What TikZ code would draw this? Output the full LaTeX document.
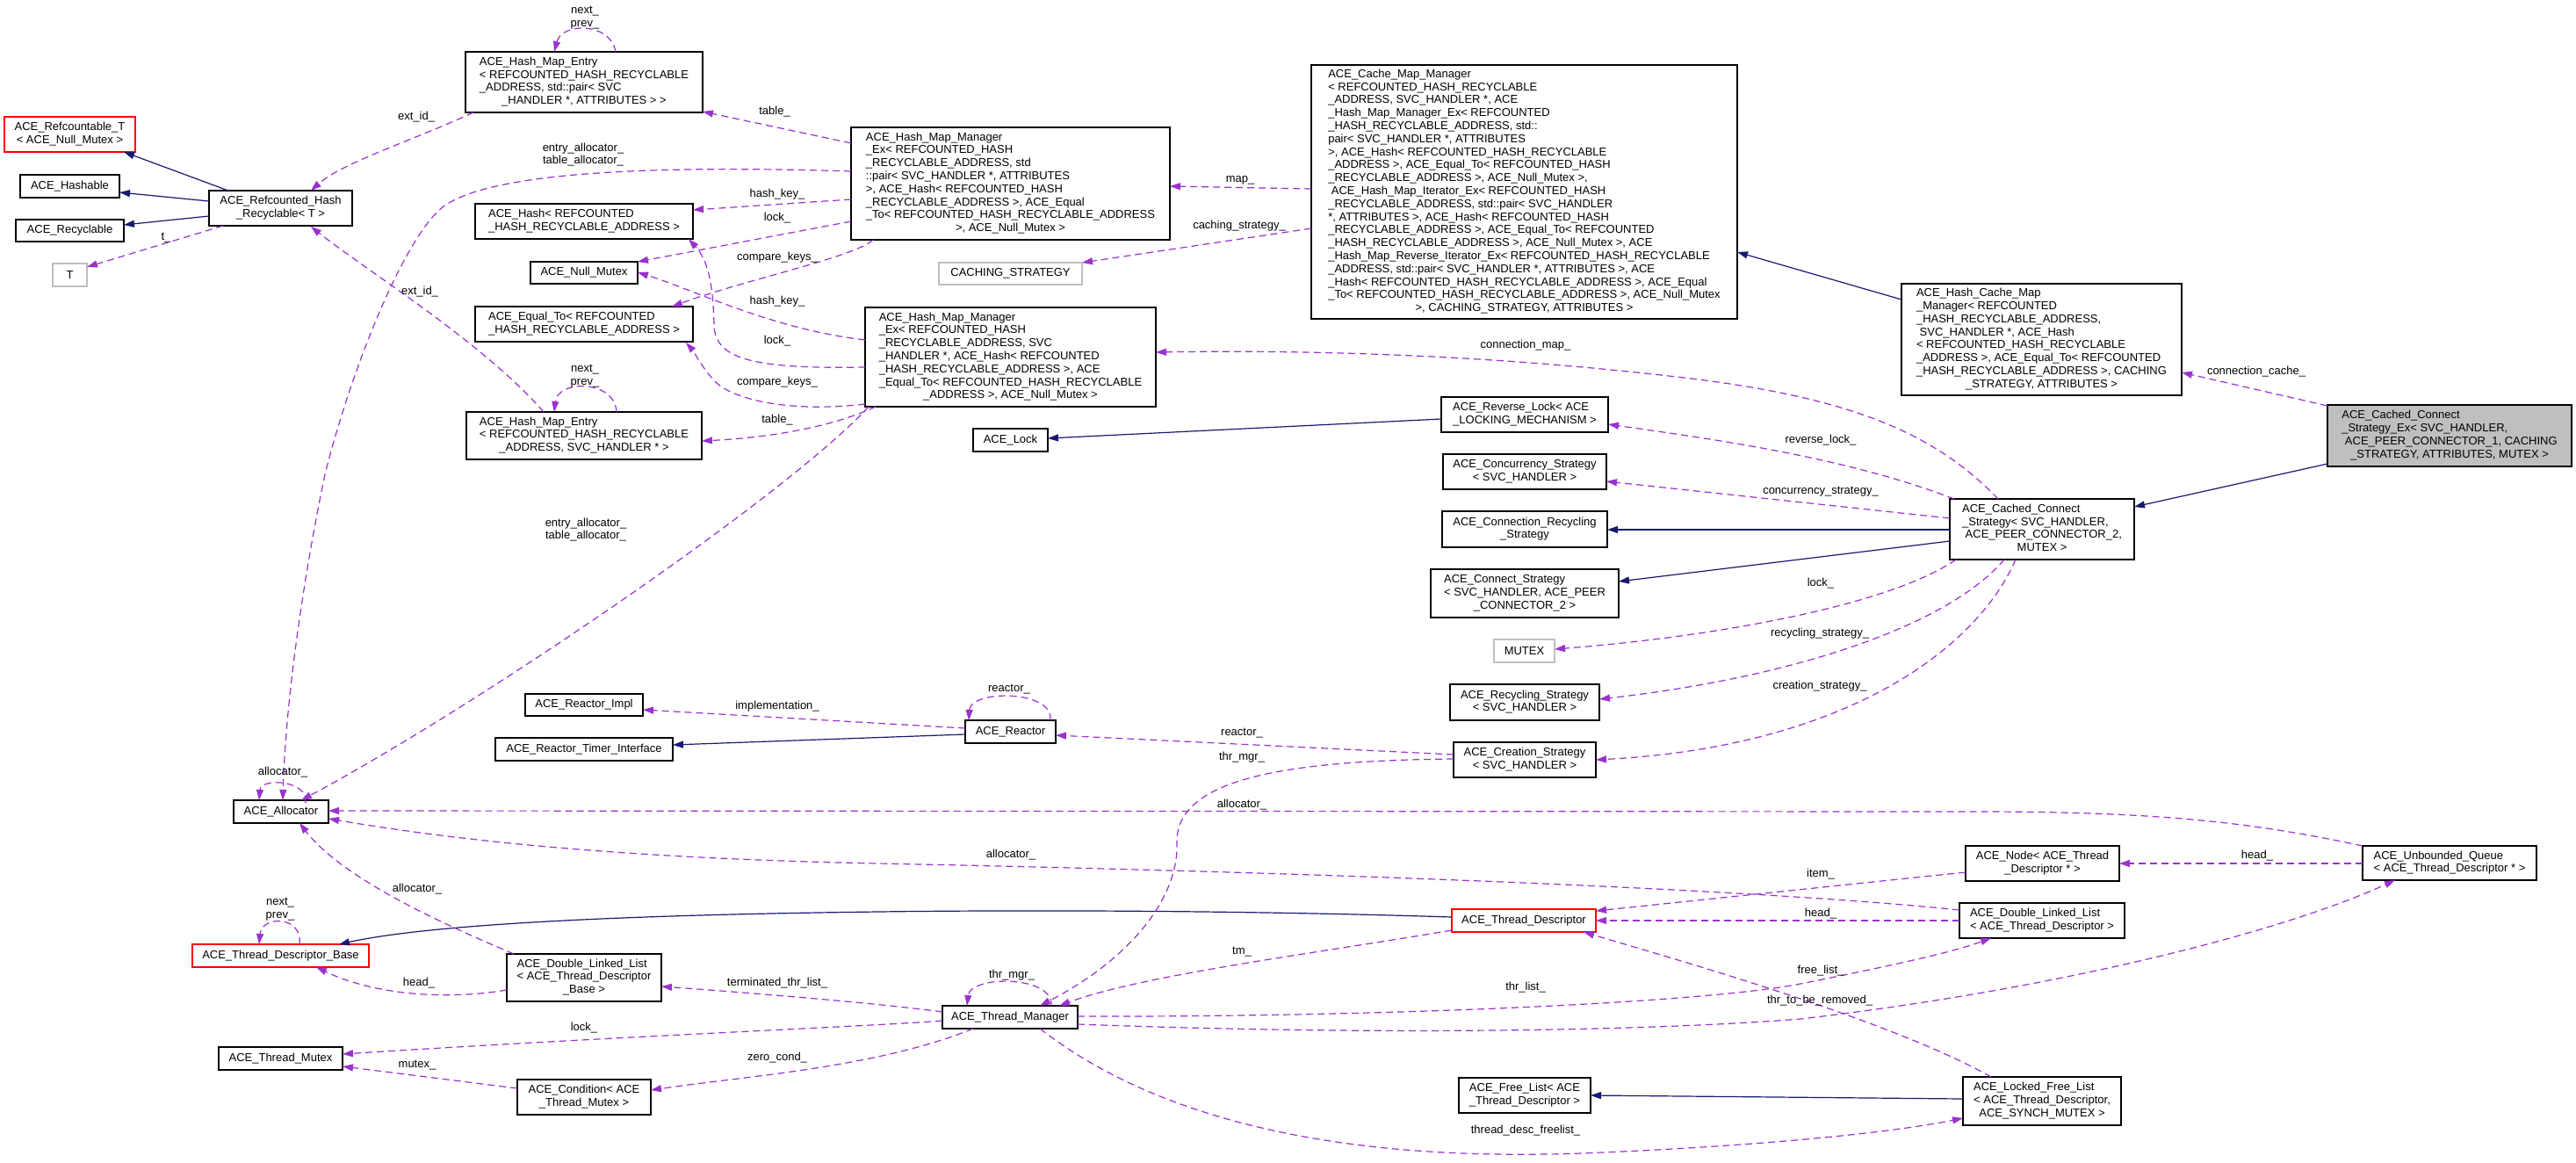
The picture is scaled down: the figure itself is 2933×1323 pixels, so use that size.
\documentclass[tikz,border=0pt]{standalone}
\usepackage{fontspec}
\setmainfont{Liberation Sans}
\usetikzlibrary{arrows.meta,calc}
\definecolor{purp}{HTML}{9A32CD}
\definecolor{navyb}{HTML}{191970}
\definecolor{gry}{HTML}{BFBFBF}
\newcommand\BoxT[2]{\begin{tabular}{@{}l@{}}#1\multicolumn{1}{@{}c@{}}{#2}\end{tabular}}
\tikzset{
 every node/.style={font=\fontsize{13}{14.8}\selectfont},
 cbox/.style 2 args={draw=black, line width=1.1pt, fill=white, inner sep=0pt, outer sep=0pt, anchor=north west, minimum width=#1pt, minimum height=#2pt},
 redb/.style={draw=red},
 greyb/.style={draw=gry},
 mainb/.style={fill=gry},
 usage/.style={draw=purp, line width=1.2pt, dash pattern=on 8pt off 5pt, -{Triangle[length=12pt,width=8pt]}},
 inher/.style={draw=navyb, line width=1.2pt, -{Triangle[length=12pt,width=8pt]}},
 elab/.style={inner sep=0pt, align=center},
}
\begin{document}
\catcode`\_=12
\begin{tikzpicture}[x=1pt,y=-1pt]
\useasboundingbox (0,0) rectangle (2933,1323);
\fill[white] (0,0) rectangle (2933,1323);
% ---------- classes ----------
\node[cbox={149}{40},redb] (RefT) at (5,133) {\BoxT{ACE_Refcountable_T\\}{< ACE_Null_Mutex >}};
\node[cbox={113}{26}] (Hashable) at (23,199) {ACE_Hashable};
\node[cbox={123}{25}] (Recyc) at (18,250) {ACE_Recyclable};
\node[cbox={39}{26},greyb] (Tp) at (60,300) {T};
\node[cbox={163}{40}] (RHR) at (238,217) {\BoxT{ACE_Refcounted_Hash\\}{_Recyclable< T >}};
\node[cbox={270}{69}] (HMEa) at (530,59) {\BoxT{ACE_Hash_Map_Entry\\< REFCOUNTED_HASH_RECYCLABLE\\_ADDRESS, std::pair< SVC\\}{_HANDLER *, ATTRIBUTES > >}};
\node[cbox={248}{40}] (Hash) at (541,232) {\BoxT{ACE_Hash< REFCOUNTED\\}{_HASH_RECYCLABLE_ADDRESS >}};
\node[cbox={122}{25}] (NullM) at (604,298) {ACE_Null_Mutex};
\node[cbox={248}{40}] (EqTo) at (541,349) {\BoxT{ACE_Equal_To< REFCOUNTED\\}{_HASH_RECYCLABLE_ADDRESS >}};
\node[cbox={268}{54}] (HMEb) at (531,469) {\BoxT{ACE_Hash_Map_Entry\\< REFCOUNTED_HASH_RECYCLABLE\\}{_ADDRESS, SVC_HANDLER * >}};
\node[cbox={363}{128}] (HMMa) at (969,145) {\BoxT{ACE_Hash_Map_Manager\\_Ex< REFCOUNTED_HASH\\_RECYCLABLE_ADDRESS, std\\::pair< SVC_HANDLER *, ATTRIBUTES\\>, ACE_Hash< REFCOUNTED_HASH\\_RECYCLABLE_ADDRESS >, ACE_Equal\\_To< REFCOUNTED_HASH_RECYCLABLE_ADDRESS\\}{>, ACE_Null_Mutex >}};
\node[cbox={163}{25},greyb] (CachS) at (1069,299) {CACHING_STRATEGY};
\node[cbox={331}{113}] (HMMb) at (985,350) {\BoxT{ACE_Hash_Map_Manager\\_Ex< REFCOUNTED_HASH\\_RECYCLABLE_ADDRESS, SVC\\_HANDLER *, ACE_Hash< REFCOUNTED\\_HASH_RECYCLABLE_ADDRESS >, ACE\\_Equal_To< REFCOUNTED_HASH_RECYCLABLE\\}{_ADDRESS >, ACE_Null_Mutex >}};
\node[cbox={485}{289}] (CMM) at (1493,74) {\BoxT{ACE_Cache_Map_Manager\\< REFCOUNTED_HASH_RECYCLABLE\\_ADDRESS, SVC_HANDLER *, ACE\\_Hash_Map_Manager_Ex< REFCOUNTED\\_HASH_RECYCLABLE_ADDRESS, std::\\pair< SVC_HANDLER *, ATTRIBUTES\\>, ACE_Hash< REFCOUNTED_HASH_RECYCLABLE\\_ADDRESS >, ACE_Equal_To< REFCOUNTED_HASH\\_RECYCLABLE_ADDRESS >, ACE_Null_Mutex >,\\\hspace{0.28em}ACE_Hash_Map_Iterator_Ex< REFCOUNTED_HASH\\_RECYCLABLE_ADDRESS, std::pair< SVC_HANDLER\\{}*, ATTRIBUTES >, ACE_Hash< REFCOUNTED_HASH\\_RECYCLABLE_ADDRESS >, ACE_Equal_To< REFCOUNTED\\_HASH_RECYCLABLE_ADDRESS >, ACE_Null_Mutex >, ACE\\_Hash_Map_Reverse_Iterator_Ex< REFCOUNTED_HASH_RECYCLABLE\\_ADDRESS, std::pair< SVC_HANDLER *, ATTRIBUTES >, ACE\\_Hash< REFCOUNTED_HASH_RECYCLABLE_ADDRESS >, ACE_Equal\\_To< REFCOUNTED_HASH_RECYCLABLE_ADDRESS >, ACE_Null_Mutex\\}{>, CACHING_STRATEGY, ATTRIBUTES >}};
\node[cbox={319}{127}] (HCMM) at (2165,323) {\BoxT{ACE_Hash_Cache_Map\\_Manager< REFCOUNTED\\_HASH_RECYCLABLE_ADDRESS,\\\hspace{0.28em}SVC_HANDLER *, ACE_Hash\\< REFCOUNTED_HASH_RECYCLABLE\\_ADDRESS >, ACE_Equal_To< REFCOUNTED\\_HASH_RECYCLABLE_ADDRESS >, CACHING\\}{_STRATEGY, ATTRIBUTES >}};
\node[cbox={278}{70},mainb] (Main) at (2650,461) {\BoxT{ACE_Cached_Connect\\_Strategy_Ex< SVC_HANDLER,\\\hspace{0.28em}ACE_PEER_CONNECTOR_1, CACHING\\}{_STRATEGY, ATTRIBUTES, MUTEX >}};
\node[cbox={210}{69}] (CCS) at (2220,568) {\BoxT{ACE_Cached_Connect\\_Strategy< SVC_HANDLER,\\\hspace{0.28em}ACE_PEER_CONNECTOR_2,\\}{MUTEX >}};
\node[cbox={85}{26}] (Lock) at (1108,488) {ACE_Lock};
\node[cbox={190}{40}] (RevLock) at (1641,452) {\BoxT{ACE_Reverse_Lock< ACE\\}{_LOCKING_MECHANISM >}};
\node[cbox={186}{40}] (Conc) at (1643,517) {\BoxT{ACE_Concurrency_Strategy\\}{< SVC_HANDLER >}};
\node[cbox={188}{41}] (ConnRec) at (1642,582) {\BoxT{ACE_Connection_Recycling\\}{_Strategy}};
\node[cbox={214}{55}] (ConnS) at (1629,648) {\BoxT{ACE_Connect_Strategy\\< SVC_HANDLER, ACE_PEER\\}{_CONNECTOR_2 >}};
\node[cbox={69}{26},greyb] (Mutex) at (1701,728) {MUTEX};
\node[cbox={170}{41}] (RecS) at (1651,779) {\BoxT{ACE_Recycling_Strategy\\}{< SVC_HANDLER >}};
\node[cbox={162}{40}] (CreS) at (1655,845) {\BoxT{ACE_Creation_Strategy\\}{< SVC_HANDLER >}};
\node[cbox={103}{26}] (Reactor) at (1099,820) {ACE_Reactor};
\node[cbox={134}{25}] (RImpl) at (598,790) {ACE_Reactor_Impl};
\node[cbox={202}{26}] (RTI) at (564,840) {ACE_Reactor_Timer_Interface};
\node[cbox={108}{26}] (Alloc) at (266,911) {ACE_Allocator};
\node[cbox={201}{26},redb] (TDB) at (219,1075) {ACE_Thread_Descriptor_Base};
\node[cbox={176}{54}] (DLLB) at (577,1086) {\BoxT{ACE_Double_Linked_List\\< ACE_Thread_Descriptor\\}{_Base >}};
\node[cbox={141}{26}] (TMutex) at (249,1192) {ACE_Thread_Mutex};
\node[cbox={152}{40}] (Cond) at (589,1229) {\BoxT{ACE_Condition< ACE\\}{_Thread_Mutex >}};
\node[cbox={154}{26}] (TM) at (1073,1145) {ACE_Thread_Manager};
\node[cbox={164}{26},redb] (TD) at (1653,1035) {ACE_Thread_Descriptor};
\node[cbox={150}{40}] (FreeL) at (1661,1227) {\BoxT{ACE_Free_List< ACE\\}{_Thread_Descriptor >}};
\node[cbox={175}{40}] (Node) at (2238,963) {\BoxT{ACE_Node< ACE_Thread\\}{_Descriptor * >}};
\node[cbox={198}{39}] (UQ) at (2690,963) {\BoxT{ACE_Unbounded_Queue\\}{< ACE_Thread_Descriptor * >}};
\node[cbox={188}{40}] (DLLT) at (2231,1028) {\BoxT{ACE_Double_Linked_List\\}{< ACE_Thread_Descriptor >}};
\node[cbox={180}{55}] (LFL) at (2235,1226) {\BoxT{ACE_Locked_Free_List\\< ACE_Thread_Descriptor,\\}{ACE_SYNCH_MUTEX >}};
% ---------- inheritance ----------
\draw[inher] ($(RHR.north west)+(22,0)$) -- ($(RefT.north west)+(136,40)$);
\draw[inher] ($(RHR.north west)+(0,12)$) -- ($(Hashable.north west)+(113,20)$);
\draw[inher] ($(RHR.north west)+(0,29)$) -- ($(Recyc.north west)+(123,6)$);
\draw[inher] ($(HCMM.north west)+(0,18)$) -- ($(CMM.north west)+(485,213)$);
\draw[inher] ($(Main.north west)+(0,67)$) -- ($(CCS.north west)+(210,9)$);
\draw[inher] ($(RevLock.north west)+(0,25)$) -- ($(Lock.north west)+(85,11)$);
\draw[inher] ($(CCS.north west)+(0,35)$) -- ($(ConnRec.north west)+(188,21)$);
\draw[inher] ($(CCS.north west)+(0,48)$) -- ($(ConnS.north west)+(214,14)$);
\draw[inher] ($(Reactor.north west)+(0,16)$) -- ($(RTI.north west)+(202,8)$);
\draw[inher] ($(TD.north west)+(0,9)$) .. controls (1400,1036) and (1150,1036) .. (1000,1038) .. controls (750,1041) and (500,1050) .. ($(TDB.north west)+(167,0)$);
\draw[inher] ($(LFL.north west)+(0,25)$) -- ($(FreeL.north west)+(150,20)$);
% ---------- usage ----------
\draw[usage] ($(HMEa.north west)+(171,0)$) .. controls (695,25) and (640,25) .. ($(HMEa.north west)+(101,0)$);
\draw[usage] ($(HMEa.north west)+(9,69)$) .. controls (470,160) and (390,185) .. ($(RHR.north west)+(116,0)$);
\draw[usage] ($(RHR.north west)+(16,40)$) -- ($(Tp.north west)+(39,4)$);
\draw[usage] ($(HMMa.north west)+(0,18)$) -- ($(HMEa.north west)+(270,68)$);
\draw[usage] ($(HMMa.north west)+(0,50)$) .. controls (750,188) and (560,195) .. (505,235) .. controls (460,270) and (400,420) .. (370,540) .. controls (345,660) and (325,800) .. ($(Alloc.north west)+(56,0)$);
\draw[usage] ($(HMMa.north west)+(0,82)$) -- ($(Hash.north west)+(248,7)$);
\draw[usage] ($(HMMa.north west)+(0,107)$) -- ($(NullM.north west)+(122,0)$);
\draw[usage] ($(HMMa.north west)+(25,128)$) .. controls (975,292) and (850,318) .. ($(EqTo.north west)+(224,0)$);
\draw[usage] ($(HMMb.north west)+(0,37)$) .. controls (880,375) and (790,330) .. ($(NullM.north west)+(122,12)$);
\draw[usage] ($(HMMb.north west)+(0,68)$) .. controls (860,420) and (814,410) .. (813,370) .. controls (812,320) and (805,295) .. ($(Hash.north west)+(243,40)$);
\draw[usage] ($(HMMb.north west)+(0,110)$) .. controls (900,470) and (835,455) .. (815,435) .. controls (800,420) and (790,400) .. ($(EqTo.north west)+(240,41)$);
\draw[usage] ($(HMMb.north west)+(12,113)$) .. controls (950,485) and (880,498) .. ($(HMEb.north west)+(268,33)$);
\draw[usage] ($(HMMb.north west)+(4,113)$) .. controls (900,560) and (550,800) .. ($(Alloc.north west)+(77,0)$);
\draw[usage] ($(CMM.north west)+(0,141)$) -- ($(HMMa.north west)+(363,67)$);
\draw[usage] ($(CMM.north west)+(0,186)$) -- ($(CachS.north west)+(163,0)$);
\draw[usage] ($(CCS.north west)+(55,0)$) .. controls (2200,490) and (2100,450) .. (1900,428) .. controls (1700,405) and (1500,398) .. ($(HMMb.north west)+(331,51)$);
\draw[usage] ($(CCS.north west)+(5,0)$) .. controls (2100,520) and (1950,500) .. ($(RevLock.north west)+(190,31)$);
\draw[usage] ($(CCS.north west)+(0,22)$) -- ($(Conc.north west)+(186,31)$);
\draw[usage] ($(CCS.north west)+(7,69)$) .. controls (2150,690) and (1950,725) .. ($(Mutex.north west)+(69,11)$);
\draw[usage] ($(CCS.north west)+(62,69)$) .. controls (2220,710) and (2050,770) .. ($(RecS.north west)+(170,17)$);
\draw[usage] ($(CCS.north west)+(75,69)$) .. controls (2250,740) and (2100,850) .. ($(CreS.north west)+(162,20)$);
\draw[usage] ($(Reactor.north west)+(97,0)$) .. controls (1200,785) and (1105,785) .. ($(Reactor.north west)+(4,0)$);
\draw[usage] ($(Reactor.north west)+(0,9)$) -- ($(RImpl.north west)+(134,18)$);
\draw[usage] ($(CreS.north west)+(0,14)$) -- ($(Reactor.north west)+(103,17)$);
\draw[usage] ($(CreS.north west)+(0,19)$) .. controls (1450,866) and (1338,890) .. (1340,960) .. controls (1342,1020) and (1290,1090) .. ($(TM.north west)+(111,0)$);
\draw[usage] ($(UQ.north west)+(0,0)$) .. controls (2560,935) and (2450,924) .. (2250,924) -- ($(Alloc.north west)+(108,12)$);
\draw[usage] ($(DLLT.north west)+(0,8)$) .. controls (2000,1012) and (1500,993) .. (1000,983) .. controls (750,978) and (550,962) .. ($(Alloc.north west)+(108,21)$);
\draw[usage] ($(DLLT.north west)+(0,20)$) -- ($(TD.north west)+(164,13)$);
\draw[usage] ($(Node.north west)+(0,30)$) -- ($(TD.north west)+(164,2)$);
\draw[usage] ($(UQ.north west)+(0,20)$) -- ($(Node.north west)+(175,20)$);
\draw[usage] ($(TM.north west)+(154,12)$) .. controls (1600,1158) and (1950,1140) .. (2050,1120) .. controls (2150,1100) and (2220,1085) .. ($(DLLT.north west)+(36,40)$);
\draw[usage] ($(TM.north west)+(154,21)$) .. controls (1600,1180) and (1900,1172) .. (2050,1160) .. controls (2350,1125) and (2600,1060) .. ($(UQ.north west)+(37,39)$);
\draw[usage] ($(LFL.north west)+(32,0)$) .. controls (2150,1160) and (1900,1090) .. ($(TD.north west)+(150,26)$);
\draw[usage] ($(TM.north west)+(111,26)$) .. controls (1350,1300) and (1600,1320) .. (1800,1313) .. controls (2000,1305) and (2150,1290) .. ($(LFL.north west)+(0,47)$);
\draw[usage] ($(TM.north west)+(124,0)$) .. controls (1200,1110) and (1105,1110) .. ($(TM.north west)+(28,0)$);
\draw[usage] ($(TD.north west)+(0,24)$) .. controls (1500,1085) and (1300,1110) .. ($(TM.north west)+(133,0)$);
\draw[usage] ($(TM.north west)+(0,7)$) .. controls (1000,1142) and (850,1130) .. ($(DLLB.north west)+(176,37)$);
\draw[usage] ($(TM.north west)+(0,17)$) .. controls (1000,1168) and (700,1180) .. ($(TMutex.north west)+(141,8)$);
\draw[usage] ($(TM.north west)+(35,26)$) .. controls (1000,1215) and (850,1225) .. ($(Cond.north west)+(152,12)$);
\draw[usage] ($(Cond.north west)+(0,10)$) -- ($(TMutex.north west)+(141,22)$);
\draw[usage] ($(DLLB.north west)+(0,41)$) .. controls (500,1140) and (420,1130) .. ($(TDB.north west)+(141,26)$);
\draw[usage] ($(DLLB.north west)+(8,0)$) .. controls (500,1050) and (390,1000) .. ($(Alloc.north west)+(75,26)$);
\draw[usage] ($(TDB.north west)+(122,0)$) .. controls (345,1042) and (298,1042) .. ($(TDB.north west)+(76,0)$);
\draw[usage] ($(Alloc.north west)+(82,3)$) .. controls (352,888) and (297,885) .. ($(Alloc.north west)+(29,0)$);
\draw[usage] ($(Main.north west)+(0,1)$) -- ($(HCMM.north west)+(319,101)$);
\draw[usage] ($(HMEb.north west)+(171,0)$) .. controls (700,432) and (635,432) .. ($(HMEb.north west)+(100,0)$);
\draw[usage] ($(HMEb.north west)+(88,0)$) .. controls (550,390) and (420,310) .. ($(RHR.north west)+(116,41)$);
% ---------- edge labels ----------
\node[elab] (L1) at (666,20) {next_\\prev_};
\node[elab] (L2) at (474,133) {ext_id_};
\node[elab] (L3) at (189,271) {t_};
\node[elab] (L4) at (882,127) {table_};
\node[elab] (L5) at (664,176) {entry_allocator_\\table_allocator_};
\node[elab] (L6) at (885,221) {hash_key_};
\node[elab] (L7) at (885,248) {lock_};
\node[elab] (L8) at (885,293) {compare_keys_};
\node[elab] (L9) at (885,343) {hash_key_};
\node[elab] (L10) at (885,388) {lock_};
\node[elab] (L11) at (885,435) {compare_keys_};
\node[elab] (L12) at (478,332) {ext_id_};
\node[elab] (L13) at (666,428) {next_\\prev_};
\node[elab] (L14) at (885,478) {table_};
\node[elab] (L15) at (667,603) {entry_allocator_\\table_allocator_};
\node[elab] (L16) at (1412,205) {map_};
\node[elab] (L17) at (1411,257) {caching_strategy_};
\node[elab] (L18) at (1737,393) {connection_map_};
\node[elab] (L19) at (2569,423) {connection_cache_};
\node[elab] (L20) at (2073,501) {reverse_lock_};
\node[elab] (L21) at (2073,560) {concurrency_strategy_};
\node[elab] (L22) at (2073,664) {lock_};
\node[elab] (L23) at (2072,721) {recycling_strategy_};
\node[elab] (L24) at (2072,781) {creation_strategy_};
\node[elab] (L25) at (1149,785) {reactor_};
\node[elab] (L26) at (885,804) {implementation_};
\node[elab] (L27) at (1414,835) {reactor_};
\node[elab] (L28) at (1414,862) {thr_mgr_};
\node[elab] (L29) at (322,879) {allocator_};
\node[elab] (L30) at (1414,916) {allocator_};
\node[elab] (L31) at (1151,973) {allocator_};
\node[elab] (L32) at (2570,974) {head_};
\node[elab] (L33) at (2073,995) {item_};
\node[elab] (L34) at (475,1012) {allocator_};
\node[elab] (L35) at (319,1035) {next_\\prev_};
\node[elab] (L36) at (2073,1040) {head_};
\node[elab] (L37) at (1414,1084) {tm_};
\node[elab] (L38) at (2073,1105) {free_list_};
\node[elab] (L39) at (1152,1110) {thr_mgr_};
\node[elab] (L40) at (477,1119) {head_};
\node[elab] (L41) at (885,1119) {terminated_thr_list_};
\node[elab] (L42) at (1737,1124) {thr_list_};
\node[elab] (L43) at (2072,1139) {thr_to_be_removed_};
\node[elab] (L44) at (665,1170) {lock_};
\node[elab] (L45) at (885,1204) {zero_cond_};
\node[elab] (L46) at (475,1213) {mutex_};
\node[elab] (L47) at (1737,1287) {thread_desc_freelist_};
\end{tikzpicture}
\end{document}
